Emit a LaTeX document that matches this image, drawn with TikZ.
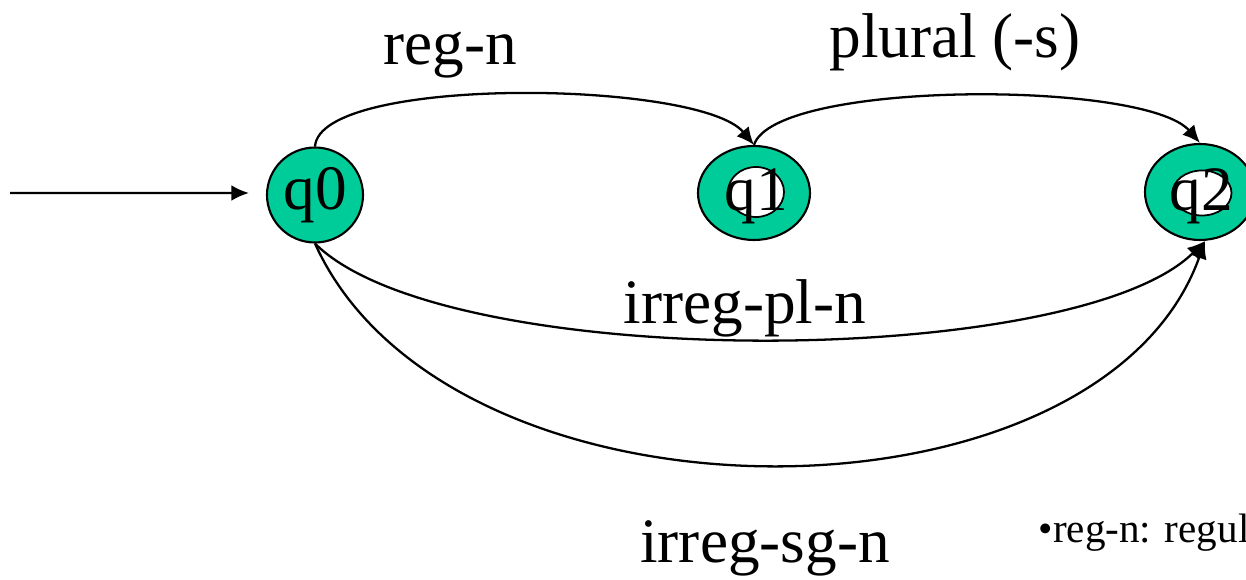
\documentclass[tikz,border=0pt]{standalone}
\usepackage{fontspec}
\setmainfont{Liberation Serif}
\usetikzlibrary{shapes.geometric,arrows.meta}
\definecolor{stategreen}{HTML}{00CC99}

\begin{document}
\begin{tikzpicture}[
    state/.style={ellipse, draw=black, line width=0.6pt, fill=stategreen,
      inner sep=0pt, font=\fontsize{18}{22}\selectfont},
    inner/.style={ellipse, draw=black, line width=0.5pt, fill=white,
      inner sep=0pt, font=\fontsize{18}{22}\selectfont},
    trans/.style={line width=0.65pt, -{Latex[length=5pt,width=4.5pt]}},
    lbl/.style={font=\fontsize{18}{22}\selectfont}
  ]
  \useasboundingbox (0,0) rectangle (12.46,5.8);

  % States
  \node[state, minimum width=0.96cm, minimum height=0.95cm] (q0) at (3.15,3.85) {q0};
  \node[state, minimum width=1.12cm, minimum height=0.94cm] (q1) at (7.54,3.87) {};
  \node[inner, minimum width=0.56cm, minimum height=0.50cm] (q1in) at (7.56,3.88) {};
  \node[lbl] (q1txt) at (7.56,3.84) {q1};
  \node[state, minimum width=1.10cm, minimum height=0.96cm] (q2) at (12.0,3.88) {};
  \node[inner, minimum width=0.59cm, minimum height=0.45cm] (q2in) at (12.02,3.87) {};
  \node[lbl] (q2txt) at (12.01,3.84) {q2};

  % Start arrow
  \coordinate (start) at (0.1,3.87);
  \draw[trans, shorten >=0.17cm] (start) -- ([yshift=0.02cm]q0.west);

  % Transitions
  \draw[trans] (q0.north) .. controls (3.2,5.05) and (7.0,5.0) .. (q1.north);
  \draw[trans] (q1.north) .. controls (7.75,5.0) and (11.45,5.0) .. (q2.north);
  \draw[trans] (q0.south) .. controls (4.45,2.07) and (10.75,2.1) .. ([xshift=0.05cm]q2.south);
  \draw[trans] (q0.south) .. controls (4.49,0.40) and (11.0,0.43) .. ([xshift=0.05cm]q2.south);

  % Labels
  \node[lbl] (lregn) at (4.50,5.25) {reg-n};
  \node[lbl] (lplural) at (9.55,5.38) {plural (-s)};
  \node[lbl] (lirrpl) at (7.45,2.72) {irreg-pl-n};
  \node[lbl] (lirrsg) at (7.65,0.32) {irreg-sg-n};
  \node[anchor=base west, inner sep=0pt, font=\fontsize{11.7}{14}\selectfont] (note) at (10.38,0.37) {•reg-n: regul};
\end{tikzpicture}
\end{document}
